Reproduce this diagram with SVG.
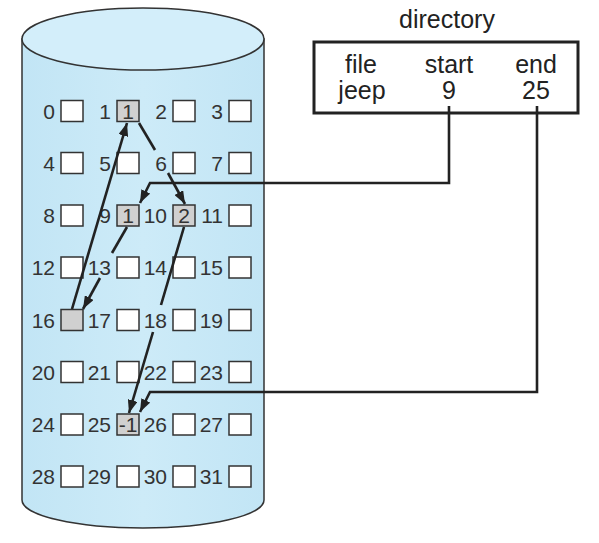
<svg xmlns="http://www.w3.org/2000/svg" width="599" height="543" viewBox="0 0 599 543">
<style>
.lbl{font-family:"Liberation Sans",Arial,sans-serif;font-size:21px;fill:#333;text-anchor:end}
.val{font-family:"Liberation Sans",Arial,sans-serif;font-size:21px;fill:#333;text-anchor:middle}
.dir{font-family:"Liberation Sans",Arial,sans-serif;font-size:25px;fill:#222;text-anchor:middle}
.blk{fill:#fff;stroke:#333;stroke-width:1.5}
.used{fill:#d0d0d0;stroke:#333;stroke-width:1.5}
.ln{fill:none;stroke:#222;stroke-width:2.6}
.arr{fill:none;stroke:#222;stroke-width:2.6;marker-end:url(#ah)}
</style>
<defs>
<marker id="ah" markerUnits="userSpaceOnUse" markerWidth="14" markerHeight="10" refX="13" refY="5" orient="auto">
<path d="M0,0 L13,5 L0,10 Z" fill="#222"/>
</marker>
<linearGradient id="cyl" x1="0" y1="0" x2="1" y2="0">
<stop offset="0" stop-color="#c2e5f5"/>
<stop offset="0.5" stop-color="#cdebf8"/>
<stop offset="1" stop-color="#c2e5f5"/>
</linearGradient>
</defs>
<rect width="599" height="543" fill="#fff"/>
<g id="disk">
<path d="M22,39 V500 A121,28 0 0 0 264,500 V39 Z" fill="url(#cyl)" stroke="#333" stroke-width="1.5"/>
<ellipse cx="143" cy="39" rx="121" ry="31" fill="#d3eefa" stroke="#333" stroke-width="1.5"/>
</g>
<g id="blocks">
<g id="row0">
<text class="lbl" x="55" y="118.5">0</text><rect class="blk" x="61" y="100.5" width="22" height="21"/>
<text class="lbl" x="111" y="118.5">1</text><rect class="used" x="117" y="100.5" width="22" height="21"/><text class="val" x="128" y="118.5">1</text>
<text class="lbl" x="167" y="118.5">2</text><rect class="blk" x="173" y="100.5" width="22" height="21"/>
<text class="lbl" x="223" y="118.5">3</text><rect class="blk" x="229" y="100.5" width="22" height="21"/>
</g>
<g id="row1">
<text class="lbl" x="55" y="170.5">4</text><rect class="blk" x="61" y="152.5" width="22" height="21"/>
<text class="lbl" x="111" y="170.5">5</text><rect class="blk" x="117" y="152.5" width="22" height="21"/>
<text class="lbl" x="167" y="170.5">6</text><rect class="blk" x="173" y="152.5" width="22" height="21"/>
<text class="lbl" x="223" y="170.5">7</text><rect class="blk" x="229" y="152.5" width="22" height="21"/>
</g>
<g id="row2">
<text class="lbl" x="55" y="223">8</text><rect class="blk" x="61" y="205" width="22" height="21"/>
<text class="lbl" x="111" y="223">9</text><rect class="used" x="117" y="205" width="22" height="21"/><text class="val" x="128" y="223">1</text>
<text class="lbl" x="167" y="223">10</text><rect class="used" x="173" y="205" width="22" height="21"/><text class="val" x="184" y="223">2</text>
<text class="lbl" x="223" y="223">11</text><rect class="blk" x="229" y="205" width="22" height="21"/>
</g>
<g id="row3">
<text class="lbl" x="55" y="275">12</text><rect class="blk" x="61" y="257" width="22" height="21"/>
<text class="lbl" x="111" y="275">13</text><rect class="blk" x="117" y="257" width="22" height="21"/>
<text class="lbl" x="167" y="275">14</text><rect class="blk" x="173" y="257" width="22" height="21"/>
<text class="lbl" x="223" y="275">15</text><rect class="blk" x="229" y="257" width="22" height="21"/>
</g>
<g id="row4">
<text class="lbl" x="55" y="327.5">16</text><rect class="used" x="61" y="309.5" width="22" height="21"/>
<text class="lbl" x="111" y="327.5">17</text><rect class="blk" x="117" y="309.5" width="22" height="21"/>
<text class="lbl" x="167" y="327.5">18</text><rect class="blk" x="173" y="309.5" width="22" height="21"/>
<text class="lbl" x="223" y="327.5">19</text><rect class="blk" x="229" y="309.5" width="22" height="21"/>
</g>
<g id="row5">
<text class="lbl" x="55" y="379.5">20</text><rect class="blk" x="61" y="361.5" width="22" height="21"/>
<text class="lbl" x="111" y="379.5">21</text><rect class="blk" x="117" y="361.5" width="22" height="21"/>
<text class="lbl" x="167" y="379.5">22</text><rect class="blk" x="173" y="361.5" width="22" height="21"/>
<text class="lbl" x="223" y="379.5">23</text><rect class="blk" x="229" y="361.5" width="22" height="21"/>
</g>
<g id="row6">
<text class="lbl" x="55" y="432">24</text><rect class="blk" x="61" y="414" width="22" height="21"/>
<text class="lbl" x="111" y="432">25</text><rect class="used" x="117" y="414" width="22" height="21"/><text class="val" x="128" y="432">-1</text>
<text class="lbl" x="167" y="432">26</text><rect class="blk" x="173" y="414" width="22" height="21"/>
<text class="lbl" x="223" y="432">27</text><rect class="blk" x="229" y="414" width="22" height="21"/>
</g>
<g id="row7">
<text class="lbl" x="55" y="484">28</text><rect class="blk" x="61" y="466" width="22" height="21"/>
<text class="lbl" x="111" y="484">29</text><rect class="blk" x="117" y="466" width="22" height="21"/>
<text class="lbl" x="167" y="484">30</text><rect class="blk" x="173" y="466" width="22" height="21"/>
<text class="lbl" x="223" y="484">31</text><rect class="blk" x="229" y="466" width="22" height="21"/>
</g>
</g>
<g id="directory">
<text class="dir" x="447" y="28">directory</text>
<rect x="314" y="42" width="264" height="71" fill="#fff" stroke="#222" stroke-width="3"/>
<text class="dir" x="361" y="73">file</text>
<text class="dir" x="449" y="73">start</text>
<text class="dir" x="536" y="73">end</text>
<text class="dir" x="362" y="99">jeep</text>
<text class="dir" x="449" y="99">9</text>
<text class="dir" x="536" y="99">25</text>
</g>
<g id="connectors">
<path class="arr" d="M449,106 V183 H150 L140,203"/>
<path class="arr" d="M537,106 V392 H150 L140,412"/>
<path class="arr" d="M72,309 L127,123"/>
<path class="ln" d="M139,123 L155,150"/>
<path class="arr" d="M168,173 L185,204"/>
<path class="ln" d="M127,227 L112,253"/>
<path class="arr" d="M100,278 L83,309"/>
<path class="ln" d="M184,227 L161,305"/>
<path class="arr" d="M153,332 L129,413"/>
</g>
</svg>
